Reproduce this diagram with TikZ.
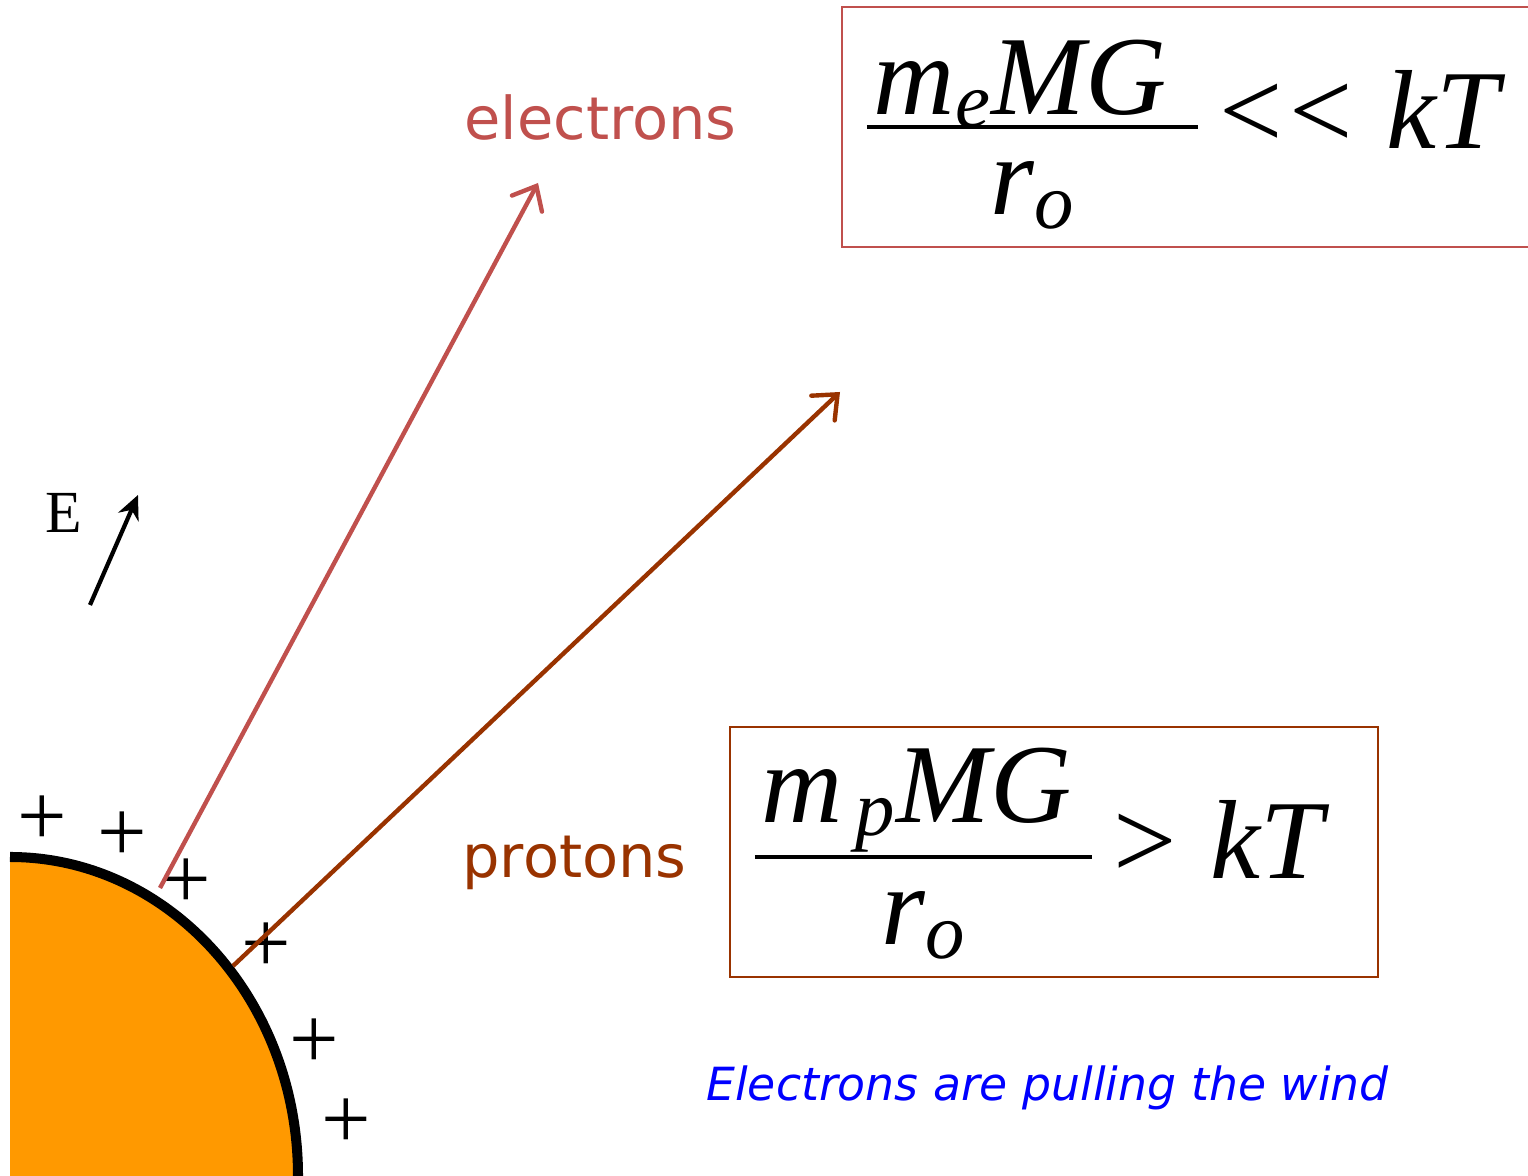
\documentclass[tikz,border=0pt]{standalone}
\usepackage{amsmath}
\usepackage{fontspec}
\newfontfamily\timesfont{Liberation Serif}
\newfontfamily\labelfont{DejaVu Sans}
\usepackage{xcolor}
\usepackage{tikz}
\usetikzlibrary{arrows.meta, fit}
\definecolor{elred}{RGB}{192,80,77}
\definecolor{protbrown}{RGB}{153,51,0}
\definecolor{sunorange}{RGB}{255,153,0}
\definecolor{windblue}{RGB}{0,0,255}

\begin{document}
\begin{tikzpicture}[
  formula/.style={font=\timesfont\fontsize{32}{38}\selectfont, inner sep=0pt, anchor=base west},
  frame/.style={rectangle, draw, line width=0.5pt, inner sep=0pt},
  species/.style={font=\labelfont\fontsize{16.8}{20}\selectfont},
  charge/.style={font=\timesfont\fontsize{25}{30}\selectfont, inner sep=0pt},
  flow/.style={line width=1.25pt, -{Straight Barb[length=2mm, width=3.4mm, line cap=round]}}
]
 \useasboundingbox (0,0) rectangle (15.28,11.76);

 % Sun surface
 \fill[sunorange] (0.10,0) -- (0.10,3.19) arc[start angle=90, end angle=0, x radius=2.88, y radius=3.19] -- cycle;
 \draw[line width=2.85pt] (0.10,3.19) arc[start angle=90, end angle=0, x radius=2.88, y radius=3.19];
 \foreach \x/\y [count=\i] in {0.42/3.55, 1.22/3.39, 1.86/2.92, 2.66/2.28, 3.14/1.32, 3.46/0.52}
   \node[charge] (plus\i) at (\x,\y) {+};

 % Electric field
 \node[font=\timesfont\fontsize{17}{20}\selectfont] (efield) at (0.64,6.63) {E};
 \coordinate (efoot) at (0.90,5.71);
 \coordinate (ehead) at (1.38,6.81);
 \draw[line width=1.2pt, -{Stealth[length=2.4mm, width=2.2mm]}] (efoot) -- (ehead);

 % Electrons
 \coordinate (elstart) at (1.60,2.88);
 \coordinate (eltip) at (5.38,9.93);
 \draw[flow, elred] (elstart) -- (eltip);
 \node[species, text=elred] (electrons) at (6.005,10.585) {electrons};

 % Protons
 \coordinate (prstart) at (2.33,2.10);
 \coordinate (prtip) at (8.40,7.84);
 \draw[flow, protbrown] (prstart) -- (prtip);
 \node[species, text=protbrown] (protons) at (5.745,3.135) {protons};

 % Escape conditions
 \node[formula] (elcond) at (8.62,10.27)
   {$\frac{\textstyle\smash[b]{\kern2pt\textit{m}_{\textit{e}}\textit{MG}\kern9pt}}{\textstyle\rule{0pt}{23.5pt}\textit{r}_{\textit{o}}}$\hspace{0.15em}<\hspace{0.06em}<\hspace{0.3em}\textit{kT}};
 \node[frame, draw=elred, fit={(8.42,9.29) (15.35,11.69)}] (elbox) {};

 \node[formula] (prcond) at (7.50,2.97)
   {$\frac{\textstyle\kern2pt\textit{m}_{\,\textit{p}}\textit{MG}\kern6pt}{\textstyle\rule{0pt}{23.5pt}\textit{r}_{\textit{o}}}$\hspace{0.15em}>\hspace{0.3em}\textit{kT}};
 \node[frame, draw=protbrown, fit={(7.30,1.99) (13.78,4.49)}] (prbox) {};

 \node[font=\labelfont\itshape\fontsize{13}{16}\selectfont, text=windblue] (wind) at (10.475,0.88) {Electrons are pulling the wind};
\end{tikzpicture}
\end{document}
